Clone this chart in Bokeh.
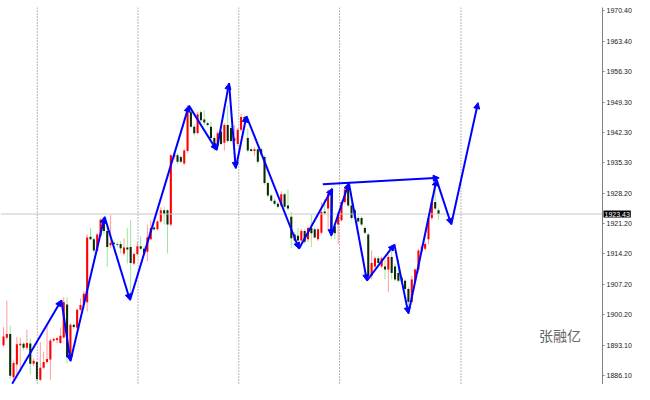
from bokeh.plotting import figure
from bokeh.models import (ColumnDataSource, Range1d, LinearAxis, FixedTicker, Span,
                          Arrow, NormalHead, Label, NumeralTickFormatter)
from bokeh.embed import file_html
from bokeh.resources import INLINE

# ---- candle data (bar index = position) ----
opens = [1893.1, 1894.8, 1895.7, 1885.7, 1888.6, 1893.1, 1893.4, 1892.5, 1893.5, 1888.8,
         1889.2, 1885.1, 1887.9, 1889.2, 1889.8, 1894.2, 1894.3, 1893.6, 1894.9, 1902.5,
         1890.1, 1897.8, 1897.1, 1901.3, 1902.4, 1903.0, 1918.2, 1917.6, 1915.0, 1918.4,
         1921.7, 1919.5, 1916.2, 1916.8, 1916.5, 1916.5, 1914.3, 1915.7, 1915.8, 1912.0,
         1914.2, 1916.0, 1915.4, 1914.7, 1917.6, 1920.3, 1919.9, 1921.7, 1924.3, 1924.3,
         1921.0, 1936.6, 1937.0, 1936.6, 1935.1, 1938.0, 1947.0, 1943.6, 1942.2, 1947.0,
         1945.3, 1944.4, 1943.6, 1941.0, 1939.2, 1942.5, 1939.9, 1944.0, 1943.3, 1940.3,
         1939.6, 1942.9, 1945.9, 1941.0, 1938.4, 1938.0, 1938.4, 1938.4, 1936.6, 1930.6,
         1927.7, 1926.5, 1925.8, 1925.4, 1928.0, 1925.4, 1922.8, 1918.7, 1918.4, 1917.3,
         1919.5, 1917.6, 1920.2, 1919.9, 1917.6, 1919.1, 1924.0, 1924.7, 1929.1, 1920.6,
         1921.0, 1922.0, 1926.2, 1929.5, 1925.4, 1924.3, 1922.5, 1922.5, 1920.2, 1918.7,
         1909.1, 1911.3, 1913.2, 1911.3, 1911.3, 1910.6, 1913.5, 1911.3, 1909.8, 1908.7,
         1908.0, 1906.1, 1903.1, 1908.0, 1910.6, 1915.0, 1915.4, 1917.6, 1922.5, 1926.2,
         1924.3]
highs = [1897.3, 1903.4, 1897.6, 1889.5, 1895.0, 1894.8, 1893.8, 1896.7, 1894.6, 1890.0,
         1889.5, 1893.8, 1891.6, 1897.9, 1894.6, 1894.9, 1895.0, 1897.2, 1904.2, 1904.2,
         1898.2, 1898.1, 1901.6, 1903.9, 1905.6, 1918.7, 1920.2, 1918.0, 1919.0, 1922.5,
         1922.6, 1920.6, 1923.2, 1917.3, 1917.0, 1917.2, 1917.8, 1920.2, 1922.1, 1914.6,
         1917.0, 1918.3, 1916.0, 1921.0, 1922.0, 1920.6, 1922.0, 1925.0, 1925.0, 1924.5,
         1937.3, 1937.8, 1937.5, 1937.0, 1938.6, 1948.6, 1948.1, 1944.2, 1947.0, 1947.4,
         1947.4, 1944.8, 1944.8, 1941.6, 1942.6, 1944.0, 1944.4, 1948.5, 1943.8, 1944.0,
         1943.3, 1946.6, 1946.2, 1943.2, 1938.8, 1938.8, 1938.8, 1938.8, 1937.0, 1931.0,
         1928.0, 1927.0, 1926.2, 1928.7, 1928.4, 1929.1, 1924.0, 1919.3, 1920.2, 1920.0,
         1920.0, 1920.6, 1923.2, 1920.3, 1920.2, 1926.2, 1926.9, 1929.1, 1929.6, 1921.4,
         1924.0, 1926.6, 1929.5, 1930.6, 1926.2, 1924.7, 1923.0, 1923.0, 1920.6, 1919.1,
         1915.0, 1913.6, 1913.6, 1913.6, 1912.8, 1914.0, 1915.8, 1912.0, 1912.8, 1909.0,
         1908.4, 1906.5, 1909.1, 1910.9, 1915.4, 1916.2, 1916.9, 1919.0, 1927.3, 1931.0,
         1924.7]
lows = [1892.7, 1894.5, 1885.3, 1884.7, 1886.0, 1887.5, 1892.0, 1892.0, 1886.4, 1888.3,
        1884.6, 1884.7, 1887.5, 1888.8, 1885.1, 1893.8, 1893.5, 1893.4, 1894.6, 1889.0,
        1889.5, 1896.9, 1896.9, 1901.0, 1901.5, 1900.9, 1917.4, 1914.5, 1914.7, 1918.0,
        1918.8, 1911.3, 1915.5, 1916.0, 1915.7, 1914.3, 1913.8, 1912.0, 1903.9, 1911.6,
        1913.8, 1915.0, 1913.9, 1912.4, 1917.3, 1919.5, 1919.6, 1921.4, 1921.0, 1914.3,
        1920.6, 1936.0, 1935.0, 1935.2, 1934.8, 1937.6, 1943.2, 1941.6, 1941.8, 1944.6,
        1944.0, 1943.6, 1940.6, 1938.0, 1938.6, 1939.3, 1938.1, 1939.9, 1940.0, 1934.4,
        1939.2, 1942.5, 1944.4, 1937.7, 1937.7, 1936.9, 1935.0, 1936.9, 1930.2, 1927.3,
        1926.1, 1925.4, 1924.7, 1925.1, 1924.7, 1924.3, 1915.5, 1916.9, 1915.0, 1916.5,
        1916.5, 1916.9, 1915.8, 1917.9, 1917.2, 1918.7, 1923.2, 1919.5, 1917.7, 1917.6,
        1916.5, 1921.7, 1925.8, 1925.0, 1922.1, 1922.1, 1921.3, 1920.6, 1918.8, 1908.7,
        1908.3, 1910.9, 1911.6, 1910.9, 1908.3, 1905.4, 1908.3, 1907.9, 1907.6, 1907.6,
        1905.7, 1901.7, 1902.8, 1907.6, 1909.8, 1914.6, 1915.0, 1916.5, 1922.0, 1924.3,
        1922.1]
closes = [1895.1, 1895.7, 1886.0, 1889.0, 1893.3, 1893.4, 1892.5, 1893.6, 1888.8, 1889.5,
          1885.3, 1887.9, 1889.2, 1889.9, 1894.2, 1894.5, 1894.7, 1895.3, 1903.1, 1890.3,
          1897.8, 1897.3, 1901.3, 1902.4, 1905.0, 1918.0, 1917.6, 1915.0, 1918.7, 1922.1,
          1919.5, 1915.8, 1916.8, 1916.5, 1916.3, 1915.5, 1915.7, 1915.2, 1912.1, 1914.2,
          1916.0, 1915.4, 1914.3, 1918.0, 1920.2, 1919.9, 1921.7, 1924.3, 1923.5, 1921.0,
          1937.0, 1937.3, 1935.5, 1935.5, 1938.1, 1947.6, 1943.6, 1942.1, 1946.5, 1945.1,
          1944.6, 1944.0, 1941.0, 1939.2, 1942.1, 1939.6, 1944.0, 1940.3, 1940.3, 1941.0,
          1942.9, 1945.9, 1944.8, 1938.1, 1938.0, 1938.4, 1935.5, 1937.3, 1930.6, 1927.7,
          1926.5, 1925.8, 1925.1, 1928.0, 1925.1, 1924.7, 1917.8, 1917.3, 1917.3, 1919.5,
          1917.0, 1920.2, 1919.0, 1918.0, 1919.9, 1923.9, 1923.6, 1928.0, 1918.7, 1919.0,
          1923.6, 1926.2, 1929.1, 1925.4, 1922.5, 1922.5, 1921.7, 1921.0, 1919.1, 1909.1,
          1912.1, 1913.2, 1912.1, 1913.2, 1910.6, 1913.5, 1909.8, 1908.3, 1908.0, 1908.0,
          1906.1, 1903.1, 1908.3, 1910.6, 1915.0, 1915.8, 1916.5, 1922.5, 1926.2, 1924.7,
          1923.43]
bars = list(range(len(opens)))

current_price = 1923.43
price_ticks = [1886.1, 1893.1, 1900.2, 1907.2, 1914.2, 1921.2, 1928.2,
               1935.3, 1942.3, 1949.3, 1956.3, 1963.4, 1970.4]
separator_bars = [10.1, 40.2, 70.3, 100.4, 136.7]

# zigzag drawing (bar index, price)
zz_x = [2.6, 17.3, 20.0, 30.2, 37.8, 55.4, 63.7, 67.4, 69.4, 72.6, 88.3,
        98.2, 97.9, 103.2, 108.6, 116.8, 121.0, 129.4, 133.8, 141.8]
zz_y = [1884.2, 1903.5, 1889.4, 1922.8, 1903.5, 1948.5, 1938.2, 1953.7, 1934.0, 1946.1, 1915.4,
        1929.3, 1918.4, 1930.6, 1908.0, 1916.4, 1900.4, 1931.4, 1921.0, 1949.2]
trend_x = [95.4, 130.2]
trend_y = [1930.3, 1931.8]

# ---- figure ----
X_END = 179.0
p = figure(width=634, height=384, output_backend="svg", toolbar_location=None,
           x_range=Range1d(-0.9, X_END), y_range=Range1d(1884.0, 1971.2),
           x_axis_location=None, y_axis_location=None, min_border=0)
p.grid.visible = False
p.outline_line_color = None
p.background_fill_color = "white"

for b in separator_bars:
    p.add_layout(Span(location=b, dimension="height", line_color="#707070",
                      line_dash="1 2", line_width=1))

p.add_layout(Span(location=current_price, dimension="width",
                  line_color="#C8C8C8", line_width=1))

up = [c >= o for o, c in zip(opens, closes)]
src = ColumnDataSource(dict(
    x=bars, high=highs, low=lows,
    top=[max(o, c) for o, c in zip(opens, closes)],
    bottom=[min(o, c) for o, c in zip(opens, closes)],
    wick=["#FF9C9C" if u else "#98E898" for u in up],
    body=["#FF0000" if u else "#0A2A0A" for u in up],
))
p.segment(x0="x", y0="low", x1="x", y1="high", line_color="wick", line_width=1, source=src)
p.vbar(x="x", width=0.62, top="top", bottom="bottom", fill_color="body",
       line_color=None, source=src)

zsrc = ColumnDataSource(dict(x0=zz_x[:-1] + [trend_x[0]], y0=zz_y[:-1] + [trend_y[0]],
                             x1=zz_x[1:] + [trend_x[1]], y1=zz_y[1:] + [trend_y[1]]))
p.add_layout(Arrow(end=NormalHead(size=6, fill_color="#0000FF", line_color="#0000FF", line_width=1),
                   x_start="x0", y_start="y0", x_end="x1", y_end="y1", source=zsrc,
                   line_color="#0000FF", line_width=2))

axis = LinearAxis(ticker=FixedTicker(ticks=price_ticks),
                  formatter=NumeralTickFormatter(format="0.00"))
axis.axis_line_color = "#808080"
axis.major_tick_line_color = "#808080"
axis.major_tick_out = 2
axis.major_tick_in = 0
axis.minor_tick_line_color = None
axis.major_label_text_font = "Liberation Sans"
axis.major_label_text_font_size = "7px"
axis.major_label_text_color = "#202020"
axis.major_label_standoff = 2
p.add_layout(axis, "right")

# current price tag: placed in a side panel so it is not clipped to the frame,
# but positioned with data coordinates over the price axis
p.add_layout(Label(x=X_END, y=current_price, x_offset=1, text="%.2f" % current_price,
                   text_font="Liberation Sans", text_font_size="7px", text_color="white",
                   text_baseline="middle", text_align="left",
                   background_fill_color="black", padding=1), "above")

p.add_layout(Label(x=160, y=1895.5, text="张融亿", text_font="Noto Sans CJK SC",
                   text_font_size="14px", text_color="#666666",
                   text_baseline="middle", text_align="left"))

open("out.html", "w").write(file_html(p, INLINE))
